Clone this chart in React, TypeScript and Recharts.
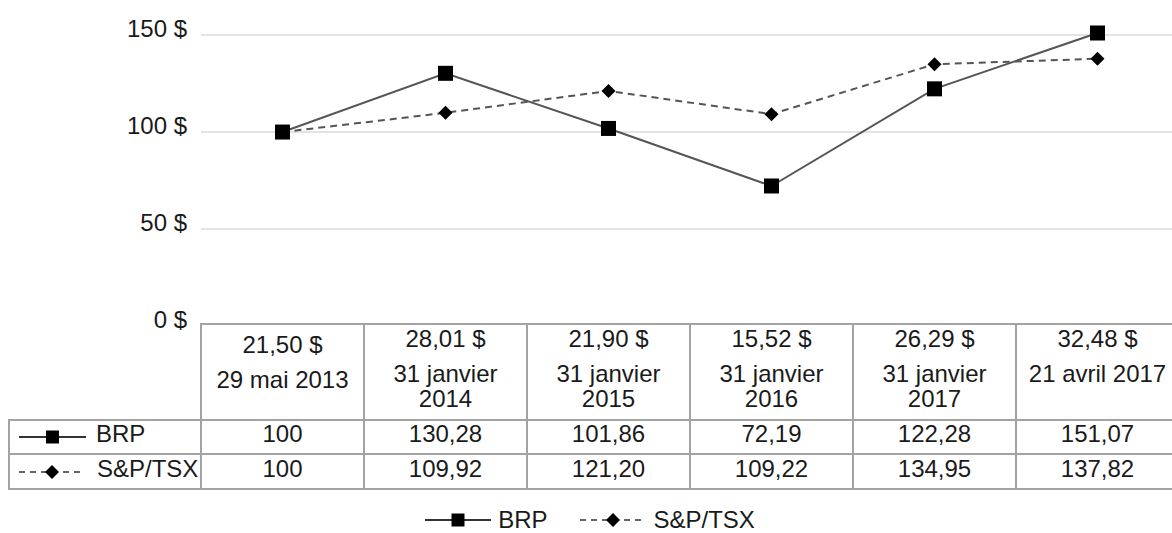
import React from 'react';
import { LineChart, Line, XAxis, YAxis, ReferenceLine, Legend } from 'recharts';

// Table / chart data
const periods = ['29 mai 2013', '31 janvier 2014', '31 janvier 2015', '31 janvier 2016', '31 janvier 2017', '21 avril 2017'];
const periodLines = [
  ['29 mai 2013'],
  ['31 janvier', '2014'],
  ['31 janvier', '2015'],
  ['31 janvier', '2016'],
  ['31 janvier', '2017'],
  ['21 avril 2017'],
];
const sharePrices = ['21,50 $', '28,01 $', '21,90 $', '15,52 $', '26,29 $', '32,48 $'];
const brpValues = [100, 130.28, 101.86, 72.19, 122.28, 151.07];
const tsxValues = [100, 109.92, 121.2, 109.22, 134.95, 137.82];
const yTicks = [0, 50, 100, 150];
const gridValues = [50, 100, 150];

const WIDTH = 1181;
const HEIGHT = 533;
const PLOT_LEFT = 201;
const PLOT_RIGHT = 1179;
const BAND = (PLOT_RIGHT - PLOT_LEFT) / periods.length;

const TEXT = '#1a1a1a';
const BORDER = '#a3a3a3';
const LINE = '#555555';

const chartData = periods.map((p, i) => ({ period: p, brp: brpValues[i], tsx: tsxValues[i] }));

const fmt = (v: number) => (Number.isInteger(v) ? String(v) : v.toFixed(2).replace('.', ','));

function SquareMark({ cx, cy, size = 14 }: { cx: number; cy: number; size?: number }) {
  return <rect x={cx - size / 2} y={cy - size / 2} width={size} height={size} fill="#000" />;
}

function DiamondMark({ cx, cy, r = 7 }: { cx: number; cy: number; r?: number }) {
  return <polygon points={`${cx},${cy - r} ${cx + r},${cy} ${cx},${cy + r} ${cx - r},${cy}`} fill="#000" />;
}

function SeriesIcon({ x1, x2, y, kind }: { x1: number; x2: number; y: number; kind: string }) {
  const mid = (x1 + x2) / 2;
  return (
    <g>
      <line
        x1={x1}
        x2={x2}
        y1={y}
        y2={y}
        stroke={kind === 'brp' ? '#333' : '#666'}
        strokeWidth={2}
        strokeDasharray={kind === 'brp' ? undefined : '6 5'}
      />
      {kind === 'brp' ? <SquareMark cx={mid} cy={y} size={13} /> : <DiamondMark cx={mid} cy={y} r={7} />}
    </g>
  );
}

// Each x tick draws its column of the data table below the plot
function TableTick(props: any) {
  const { x, y, index } = props;
  const top = y - 2;
  const l = x - BAND / 2;
  const r = x + BAND / 2;
  const shift = index === 0 ? 6 : 0;
  const lines = periodLines[index];
  const rowA = top + 96;
  const rowB = top + 130;
  const bottom = top + 165;
  const border = { stroke: BORDER, strokeWidth: 2 };
  return (
    <g fontSize={24} fill={TEXT}>
      {index === 0 && (
        <g>
          <line x1={9} x2={l} y1={rowA} y2={rowA} {...border} />
          <line x1={9} x2={l} y1={rowB} y2={rowB} {...border} />
          <line x1={9} x2={l} y1={bottom} y2={bottom} {...border} />
          <line x1={9} x2={9} y1={rowA - 1} y2={bottom + 1} {...border} />
          <SeriesIcon x1={19} x2={86} y={top + 113} kind="brp" />
          <SeriesIcon x1={19} x2={85} y={top + 148} kind="tsx" />
          <text x={96} y={top + 118} fill={TEXT}>BRP</text>
          <text x={97} y={top + 153} fill={TEXT}>S&amp;P/TSX</text>
        </g>
      )}
      <line x1={l} x2={r} y1={top} y2={top} {...border} />
      <line x1={l} x2={r} y1={rowA} y2={rowA} {...border} />
      <line x1={l} x2={r} y1={rowB} y2={rowB} {...border} />
      <line x1={l} x2={r} y1={bottom} y2={bottom} {...border} />
      <line x1={l} x2={l} y1={top - 1} y2={bottom + 1} {...border} />
      <line x1={r} x2={r} y1={top - 1} y2={bottom + 1} {...border} />
      <text x={x} y={top + 23 + shift} textAnchor="middle" fill={TEXT}>{sharePrices[index]}</text>
      {lines.map((t: string, i: number) => (
        <text key={t} x={x} y={top + 58 + shift + i * 25} textAnchor="middle" fill={TEXT}>{t}</text>
      ))}
      <text x={x} y={top + 118} textAnchor="middle" fill={TEXT}>{fmt(brpValues[index])}</text>
      <text x={x} y={top + 153} textAnchor="middle" fill={TEXT}>{fmt(tsxValues[index])}</text>
    </g>
  );
}

function YTick(props: any) {
  const { x, y, payload } = props;
  return (
    <text x={x} y={y + 2} textAnchor="end" fontSize={24} fill={TEXT}>
      {`${payload.value} $`}
    </text>
  );
}

const renderLegend = (props: any) => {
  const { payload = [] } = props;
  return (
    <div
      style={{
        height: 40,
        paddingTop: 14,
        boxSizing: 'border-box',
        display: 'flex',
        justifyContent: 'center',
        alignItems: 'center',
        gap: 32,
      }}
    >
      {payload.map((entry: any) => (
        <div key={entry.dataKey} style={{ display: 'flex', alignItems: 'center', gap: 6, height: 26 }}>
          <svg width={68} height={20}>
            <SeriesIcon x1={1} x2={67} y={10} kind={entry.dataKey} />
          </svg>
          <span style={{ fontSize: 24, color: TEXT, lineHeight: '26px' }}>{entry.value}</span>
        </div>
      ))}
    </div>
  );
};

export default function App() {
  return (
    <div
      style={{
        position: 'absolute',
        left: 0,
        top: 0,
        width: 1172,
        height: HEIGHT,
        overflow: 'hidden',
        background: '#fff',
        fontFamily: '"Liberation Sans", Arial, sans-serif',
      }}
    >
      <LineChart width={WIDTH} height={HEIGHT} data={chartData} margin={{ top: 33, right: WIDTH - PLOT_RIGHT, left: 0, bottom: 0 }}>
        {gridValues.map((v) => (
          <ReferenceLine key={v} y={v} stroke="#e4e4e4" strokeWidth={2} ifOverflow="extendDomain" />
        ))}
        <XAxis
          dataKey="period"
          height={167}
          interval={0}
          axisLine={false}
          tickLine={false}
          tickSize={0}
          tickMargin={0}
          padding={{ left: BAND / 2, right: BAND / 2 }}
          tick={<TableTick />}
        />
        <YAxis
          width={PLOT_LEFT}
          domain={[0, 150]}
          ticks={yTicks}
          axisLine={false}
          tickLine={false}
          tickSize={0}
          tickMargin={14}
          tick={<YTick />}
        />
        <Legend verticalAlign="bottom" content={renderLegend} />
        <Line
          type="linear"
          dataKey="brp"
          name="BRP"
          stroke={LINE}
          strokeWidth={2}
          dot={(p: any) => <SquareMark key={`b-${p.index}`} cx={p.cx} cy={p.cy} size={15} />}
          activeDot={false}
          isAnimationActive={false}
        />
        <Line
          type="linear"
          dataKey="tsx"
          name="S&P/TSX"
          stroke={LINE}
          strokeWidth={2}
          strokeDasharray="7 5"
          dot={(p: any) => <DiamondMark key={`t-${p.index}`} cx={p.cx} cy={p.cy} r={7} />}
          activeDot={false}
          isAnimationActive={false}
        />
      </LineChart>
    </div>
  );
}
